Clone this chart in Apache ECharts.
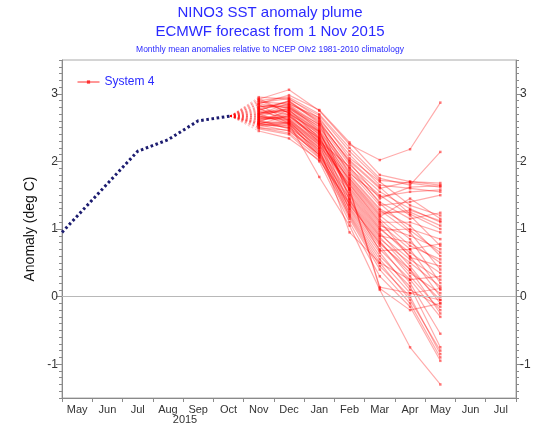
<!DOCTYPE html>
<html>
<head>
<meta charset="utf-8">
<script src="https://cdn.jsdelivr.net/npm/echarts@6/dist/echarts.min.js"></script>
<style>html,body{margin:0;padding:0;background:#fff;}#c{width:540px;height:429px;}</style>
</head>
<body>
<div id="c"></div>
<script>
// Month labels for the x axis (May 2015 .. Jul 2016)
const monthLabels = ['May','Jun','Jul','Aug','Sep','Oct','Nov','Dec','Jan','Feb','Mar','Apr','May','Jun','Jul'];
const yearLabel = '2015';
const yTickLabels = [-1, 0, 1, 2, 3];

// Observed anomaly (positions in months since 1 May 2015)
const obsX = [0, 2.5, 3.5, 4.5, 5.55];
const obsValues = [0.95, 2.15, 2.32, 2.60, 2.67];

// Forecast months (mid-month: Nov 2015 .. May 2016)
const forecastX = [6.5, 7.5, 8.5, 9.5, 10.5, 11.5, 12.5];

// System 4 ensemble members: [Nov, Dec, Jan, Feb, Mar, Apr, May]
const members = [
  [2.92, 3.06, 2.75, 2.25, 2.02, 2.18, 2.87],
  [2.90, 2.95, 2.70, 2.20, 1.75, 1.65, 2.14],
  [2.85, 2.98, 2.76, 2.28, 1.80, 1.70, 1.65],
  [2.95, 2.92, 2.68, 2.15, 1.72, 1.68, 1.62],
  [2.80, 2.88, 2.62, 2.10, 1.65, 1.60, 1.55],
  [2.88, 2.85, 2.65, 2.05, 1.70, 1.35, 1.20],
  [2.75, 2.90, 2.58, 2.00, 1.60, 1.70, 1.68],
  [2.82, 2.80, 2.55, 1.95, 1.55, 1.30, 1.10],
  [2.70, 2.86, 2.60, 1.98, 1.45, 1.62, 1.64],
  [2.78, 2.83, 2.50, 1.90, 1.50, 1.20, 0.75],
  [2.68, 2.78, 2.52, 1.88, 1.40, 1.15, 1.24],
  [2.72, 2.75, 2.45, 1.85, 1.35, 1.40, 1.50],
  [2.65, 2.80, 2.48, 1.80, 1.30, 1.05, 0.60],
  [2.90, 2.72, 2.40, 1.78, 1.28, 0.95, 0.40],
  [2.60, 2.70, 2.44, 1.75, 1.25, 1.25, 1.05],
  [2.62, 2.66, 2.38, 1.72, 1.20, 0.85, 0.20],
  [2.58, 2.76, 2.42, 1.70, 1.18, 1.45, 1.15],
  [2.74, 2.64, 2.35, 1.68, 1.15, 0.75, 0.55],
  [2.66, 2.62, 2.30, 1.65, 1.10, 1.10, 0.95],
  [2.55, 2.68, 2.33, 1.62, 1.08, 0.70, 0.10],
  [2.84, 2.60, 2.28, 1.60, 1.05, 0.90, 0.70],
  [2.57, 2.58, 2.25, 1.58, 1.02, 0.60, 0.00],
  [2.63, 2.72, 2.36, 1.55, 1.00, 0.65, 0.35],
  [2.79, 2.56, 2.22, 1.52, 0.98, 1.00, 0.85],
  [2.52, 2.54, 2.20, 1.50, 0.95, 0.45, -0.10],
  [2.69, 2.82, 2.46, 1.48, 0.92, 0.55, 0.25],
  [2.56, 2.50, 2.18, 1.45, 0.90, 0.80, 0.50],
  [2.87, 2.93, 2.64, 1.42, 0.88, 0.40, -0.05],
  [2.59, 2.52, 2.15, 1.40, 0.85, 0.50, 0.15],
  [2.45, 2.34, 2.02, 1.38, 0.82, 0.30, -0.20],
  [2.71, 2.74, 2.40, 1.35, 0.80, 0.35, 0.05],
  [2.61, 2.48, 2.12, 1.32, 0.75, 0.20, -0.55],
  [2.54, 2.45, 2.10, 1.30, 0.70, 0.25, 0.30],
  [2.77, 2.69, 2.32, 1.28, 0.65, 0.10, -0.15],
  [2.53, 2.57, 2.08, 1.25, 0.60, 0.15, -0.75],
  [2.67, 2.63, 2.26, 1.22, 0.55, 0.05, 0.12],
  [2.50, 2.42, 2.05, 1.20, 0.50, -0.05, -0.80],
  [2.64, 2.60, 2.16, 1.18, 0.45, 0.00, -0.85],
  [2.56, 2.50, 2.06, 1.15, 0.40, -0.10, -0.90],
  [2.48, 2.40, 2.00, 1.10, 0.30, -0.15, -0.95],
  [2.73, 2.77, 2.34, 1.60, 0.14, 0.05, -0.05],
  [2.55, 2.56, 1.77, 1.05, 0.10, -0.75, -1.30],
  [2.81, 2.84, 2.54, 1.82, 1.48, 1.55, 1.58],
  [2.76, 2.89, 2.56, 2.02, 1.62, 1.22, 1.00],
  [2.62, 2.67, 2.30, 1.92, 1.38, 0.98, 0.65],
  [2.93, 2.71, 2.28, 1.74, 1.22, 1.28, 1.12],
  [2.58, 2.58, 2.20, 0.95, 0.50, 0.25, -0.30],
  [2.85, 2.79, 2.44, 1.58, 0.12, -0.20, -0.10],
  [2.66, 2.61, 2.24, 1.66, 1.12, 0.58, 0.45],
  [2.70, 2.55, 2.13, 1.44, 0.68, 0.70, 0.78],
  [2.50, 2.46, 2.10, 1.36, 0.78, 0.40, -0.25]
];

const FONT = '"Liberation Sans", Arial, sans-serif';
const AXIS_GRAY = '#8a8a8a';
const chart = echarts.init(document.getElementById('c'), null, {renderer: 'canvas'});

const series = [];
// observed line
series.push({
  type: 'line', name: 'obs', xAxisIndex: 1, yAxisIndex: 0,
  data: obsX.map((x, i) => [x, obsValues[i]]),
  showSymbol: false, silent: true, z: 5,
  lineStyle: {color: '#1c1c70', width: 3, type: [2.6, 2.6]},
  markLine: {
    silent: true, symbol: 'none', label: {show: false},
    lineStyle: {color: '#b8b8b8', width: 1, type: 'solid'},
    data: [{yAxis: 0}]
  }
});
const lastX = obsX[obsX.length - 1], lastV = obsValues[obsValues.length - 1];
members.forEach(m => {
  series.push({
    type: 'line', name: 'fan', xAxisIndex: 1, yAxisIndex: 0,
    data: [[lastX, lastV], [forecastX[0], m[0]]],
    showSymbol: false, silent: true,
    lineStyle: {color: 'rgba(255,0,0,0.25)', width: 1, type: [2, 2]}
  });
  series.push({
    type: 'line', name: 'System 4', xAxisIndex: 1, yAxisIndex: 0,
    data: forecastX.map((x, i) => [x, m[i]]),
    symbol: 'rect', symbolSize: 2.5, silent: true,
    itemStyle: {color: 'rgba(255,0,0,0.5)'},
    lineStyle: {color: 'rgba(255,0,0,0.33)', width: 1.2}
  });
});

const yBase = {type: 'value', min: -1.5, max: 3.5, splitLine: {show: false}};
const option = {
  animation: false,
  backgroundColor: '#fff',
  grid: {left: 62, right: 24, top: 60, bottom: 31, show: true, borderColor: '#aaaaaa', borderWidth: 1, containLabel: false},
  legend: {
    data: ['System 4'], left: 72, top: 71, itemWidth: 22, itemHeight: 4, itemGap: 4,
    textStyle: {color: '#2a2aff', fontSize: 12, fontFamily: FONT},
    lineStyle: {color: '#ff3030', width: 1, opacity: 1},
    itemStyle: {color: '#ff3030', opacity: 1}
  },
  xAxis: [
    {type: 'category', data: monthLabels, boundaryGap: true, position: 'bottom',
     axisLine: {onZero: false, lineStyle: {color: AXIS_GRAY, width: 1}},
     axisTick: {show: true, length: 4, interval: 0, lineStyle: {color: AXIS_GRAY}},
     axisLabel: {interval: 0, color: '#333', fontSize: 11, fontFamily: FONT, margin: 6},
     splitLine: {show: false}},
    {type: 'value', min: 0, max: 15, show: false, axisLine: {onZero: false}}
  ],
  yAxis: [
    Object.assign({}, yBase, {position: 'left', interval: 0.1,
      axisLine: {show: true, onZero: false, lineStyle: {color: AXIS_GRAY}},
      axisTick: {show: true, length: 3, lineStyle: {color: AXIS_GRAY}},
      axisLabel: {show: false},
      name: 'Anomaly (deg C)', nameLocation: 'middle', nameGap: 25, nameRotate: 90,
      nameTextStyle: {color: '#111', fontSize: 14, fontFamily: FONT}}),
    Object.assign({}, yBase, {position: 'right', interval: 0.1,
      axisLine: {show: true, onZero: false, lineStyle: {color: AXIS_GRAY}},
      axisTick: {show: true, length: 3, lineStyle: {color: AXIS_GRAY}},
      axisLabel: {show: false}}),
    Object.assign({}, yBase, {position: 'left', interval: 0.5,
      axisLine: {show: false, onZero: false},
      axisTick: {show: true, length: 6, customValues: yTickLabels, lineStyle: {color: AXIS_GRAY}},
      axisLabel: {show: true, customValues: yTickLabels, color: '#333', fontSize: 12, fontFamily: FONT, margin: 4}}),
    Object.assign({}, yBase, {position: 'right', interval: 0.5,
      axisLine: {show: false, onZero: false},
      axisTick: {show: true, length: 6, customValues: yTickLabels, lineStyle: {color: AXIS_GRAY}},
      axisLabel: {show: true, customValues: yTickLabels, color: '#333', fontSize: 12, fontFamily: FONT, margin: 4}})
  ],
  graphic: [
    {type: 'text', left: 'center', top: 5, style: {text: 'NINO3 SST anomaly plume', fill: '#2a2aff', font: '15px ' + FONT}},
    {type: 'text', left: 'center', top: 24, style: {text: 'ECMWF forecast from 1 Nov 2015', fill: '#2a2aff', font: '15px ' + FONT}},
    {type: 'text', left: 'center', top: 45, style: {text: 'Monthly mean anomalies relative to NCEP OIv2 1981-2010 climatology', fill: '#2a2aff', font: '8.5px ' + FONT}},
    {type: 'text', x: 185, y: 414, style: {text: yearLabel, fill: '#333', font: '11px ' + FONT, textAlign: 'center'}}
  ],
  series: series
};
chart.setOption(option);
</script>
</body>
</html>
